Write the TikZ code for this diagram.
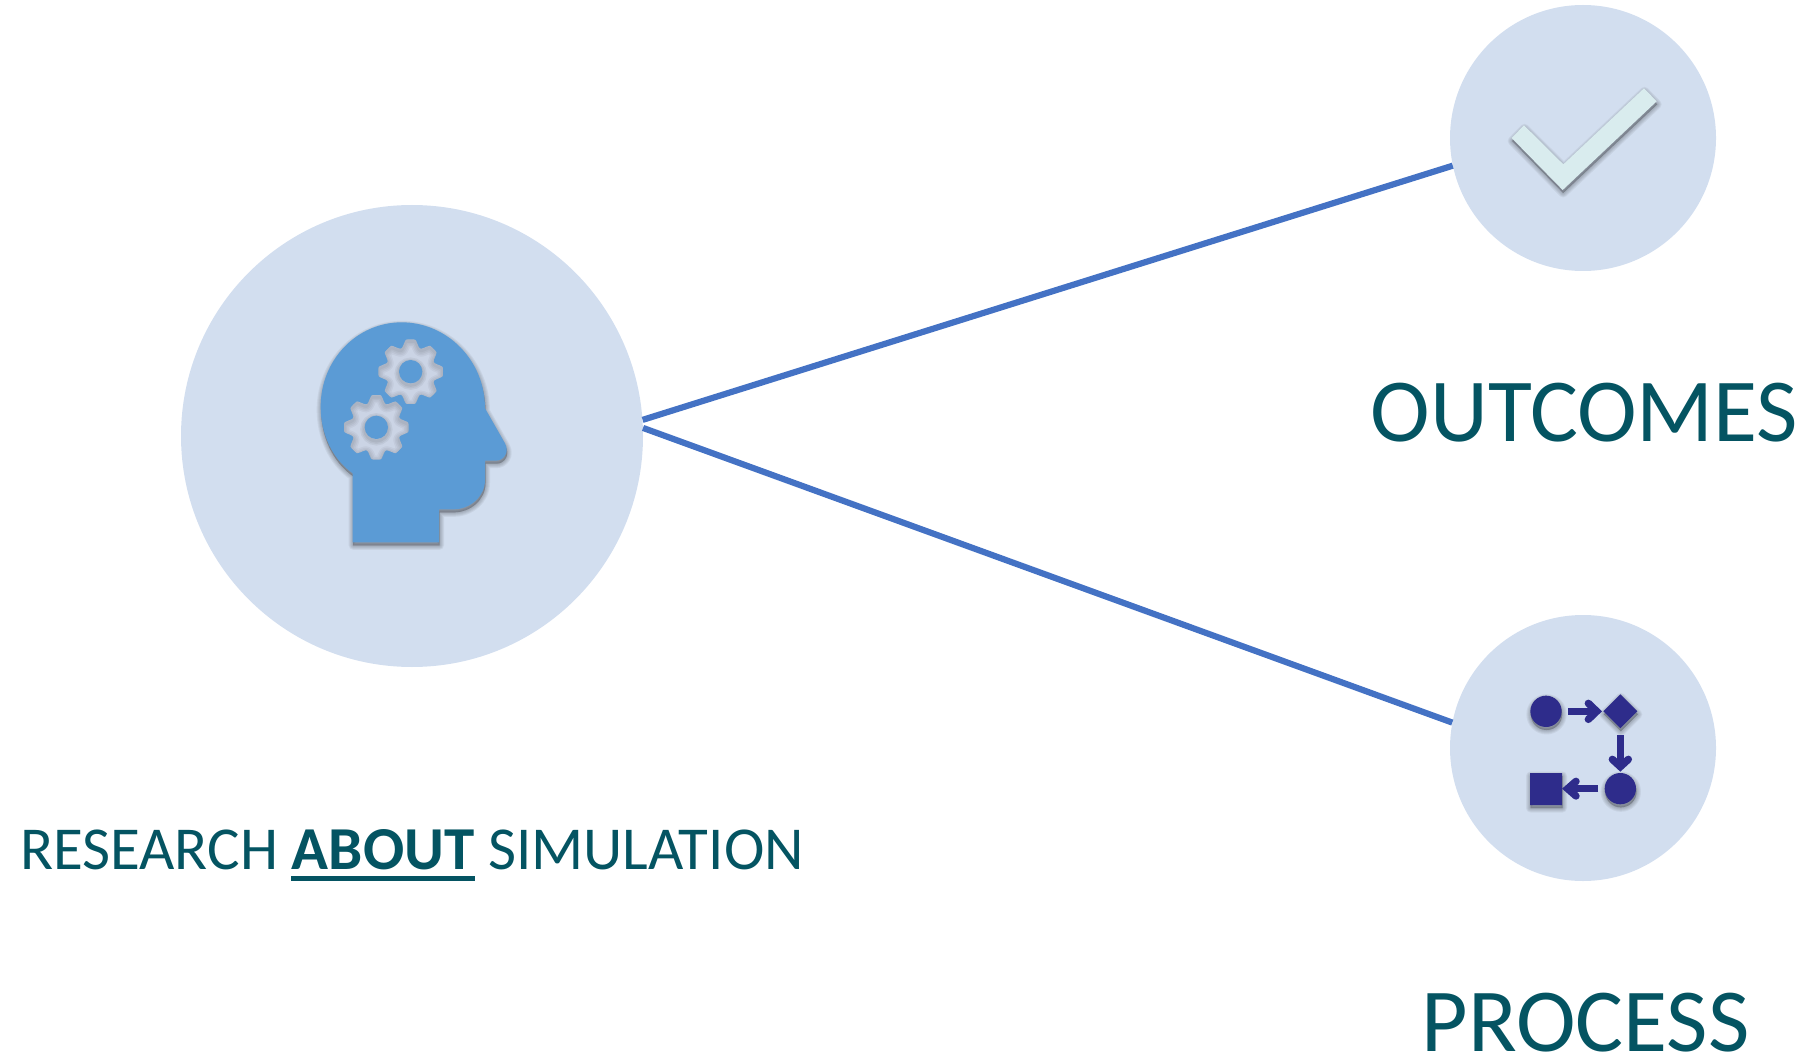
\documentclass[tikz,border=0pt]{standalone}
\usepackage{fontspec}
\setmainfont{Carlito}
\definecolor{disc}{HTML}{D2DEEF}
\definecolor{linkblue}{HTML}{4472C4}
\definecolor{headblue}{HTML}{5B9BD5}
\definecolor{geargray}{HTML}{CBD4E5}
\definecolor{teal}{HTML}{045462}
\definecolor{navy}{HTML}{2E2C8B}
\definecolor{checkfill}{HTML}{D9ECEE}
\newcommand{\softshadow}[1]{%
  \foreach \w in {9,7,5,3,1}{%
    \fill[black,opacity=.05,draw=black,line width=\w pt,line join=round,shift={(0.5pt,-3pt)}] #1;%
  }%
}
\newcommand{\gearpath}[2]{plot[domain=0:360,samples=241] ({#1+(85+12*max(-1,min(1,1.3*cos(8*\x)+0.5)))*cos(\x)},{#2+(85+12*max(-1,min(1,1.3*cos(8*\x)+0.5)))*sin(\x)}) -- cycle}
\newcommand{\gearicon}[2]{%
  \fill[geargray] \gearpath{#1}{#2};
  \begin{scope}
    \clip \gearpath{#1}{#2};
    \foreach \w in {12,9,6,3}{\draw[black,opacity=.04,line width=\w pt,shift={(0pt,-2pt)}] \gearpath{#1}{#2};}
    \foreach \w in {9,6,3}{\draw[black,opacity=.05,line width=\w pt,shift={(0pt,-2pt)}] (#1,#2) circle[radius=35];}
  \end{scope}
  \fill[headblue] (#1,#2) circle[radius=35];
}
\tikzset{
  disc node/.style={circle,fill=disc,draw=none,inner sep=0pt,minimum size=#1},
  link/.style={draw=linkblue,line width=6.2pt},
  caption/.style={text=teal,inner sep=0pt,anchor=base},
  zoomed/.style={x=0.33333pt,y=-0.33333pt},
  flowarrow/.style={navy,line width=7.4pt},
  flowhead/.style={navy,line width=7.4pt,line cap=round,line join=miter}
}
\begin{document}
\begin{tikzpicture}[x=1pt,y=-1pt]
\useasboundingbox (0,0) rectangle (1809,1056);
\node[disc node=462pt] (big) at (412,436) {};
\node[disc node=266pt] (top) at (1583,138) {};
\node[disc node=266pt] (bottom) at (1583,748) {};
\draw[link] (big.4) -- (top.192);
\draw[link] (big.2.5) -- (bottom.169);

% head
\begin{scope}[shift={(290,300)},zoomed]
  \def\headpath{(188,727) -- (188,520) .. controls (125,475) and (92,400) .. (92,320) .. controls (92,180) and (200,67) .. (335,67) .. controls (470,67) and (585,180) .. (585,325) -- (645,430) .. controls (660,458) and (640,482) .. (618,482) -- (585,482) -- (585,540) .. controls (585,590) and (540,628) .. (490,628) -- (447,628) -- (447,727) -- cycle}
  \softshadow{\headpath}
  \fill[headblue] \headpath;
  \gearicon{362}{215}
  \gearicon{259}{382}
\end{scope}

% check
\begin{scope}[shift={(1480,60)},zoomed]
  \def\checkpath{(132,196) -- (250,313) -- (492,85) -- (530,124) -- (248,390) -- (95,234) -- cycle}
  \softshadow{\checkpath}
  \fill[checkfill] \checkpath;
\end{scope}

% process
\begin{scope}[shift={(1480,660)},zoomed]
  \def\flowshapes{(198,154) circle[radius=47] (370,154) -- (421,103) -- (472,154) -- (421,205) -- cycle (421,386) circle[radius=47] (150,339) rectangle (246,435)}
  \softshadow{\flowshapes}
  \fill[navy] \flowshapes;
  \draw[flowarrow] (265,154) -- (345,154);
  \draw[flowhead] (325,130) -- (350,154) -- (325,178);
  \draw[flowarrow] (421,225) -- (421,315);
  \draw[flowhead] (397,298) -- (421,320) -- (445,298);
  \draw[flowarrow] (354,386) -- (268,386);
  \draw[flowhead] (288,364) -- (263,386) -- (288,408);
\end{scope}

\node[caption,font=\fontsize{90}{90}\selectfont] (outcomes) at (1584.5,441) {OUTCOMES};
\node[caption,font=\fontsize{90}{90}\selectfont] (process) at (1585.5,1051) {PROCESS};
\node[caption,anchor=base west,font=\fontsize{61}{61}\selectfont] (research) at (20,869) {RESEARCH \textbf{ABOUT} SIMULATION};
\fill[teal] (291,876) rectangle (475,881);
\end{tikzpicture}
\end{document}
